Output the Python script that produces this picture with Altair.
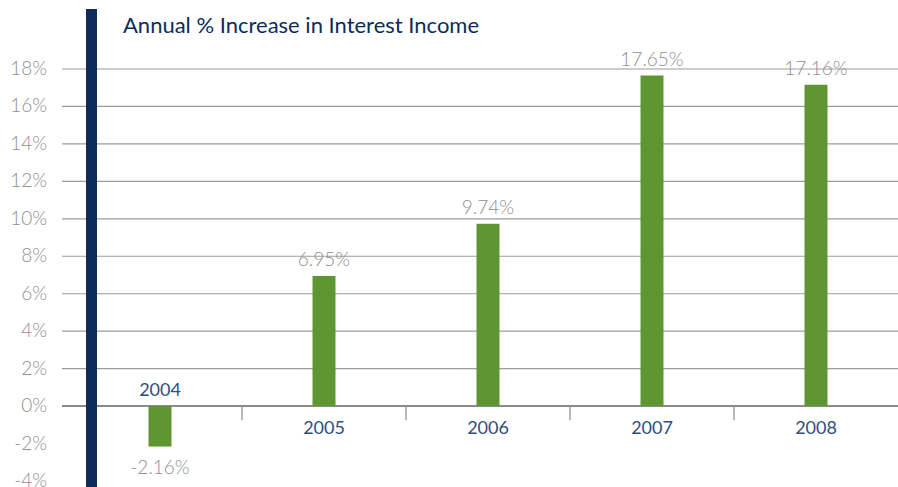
import altair as alt
import pandas as pd

years = ["2004", "2005", "2006", "2007", "2008"]
values = [-2.16, 6.95, 9.74, 17.65, 17.16]
value_labels = ["-2.16%", "6.95%", "9.74%", "17.65%", "17.16%"]
y_ticks = [-4, -2, 0, 2, 4, 6, 8, 10, 12, 14, 16, 18]
y_tick_labels = ["-4%", "-2%", "0%", "2%", "4%", "6%", "8%", "10%", "12%", "14%", "16%", "18%"]
grid_vals = [2, 4, 6, 8, 10, 12, 14, 16, 18]
zero_val = [0]
sep_depth = [-0.75]
title_text = ["Annual % Increase in Interest Income"]

NAVY = "#0b2c5c"
GREEN = "#5e9732"
GRAY = "#8f8f8f"
YEARC = "#2d4f7c"
FONT = "Lato"

df = pd.DataFrame({"year": years, "value": values, "label": value_labels,
                   "z": [0] * len(years), "d": sep_depth * len(years)})
grid = pd.DataFrame({"g": grid_vals})
zdf = pd.DataFrame({"g": zero_val})
ticks = pd.DataFrame({"v": y_ticks, "lab": y_tick_labels})
ttl = pd.DataFrame({"t": title_text})

xscale = alt.Scale(paddingInner=0, paddingOuter=0)
yscale = alt.Scale(domain=[-4, 18], nice=False, zero=False)


def X():
    return alt.X("year:N", scale=xscale, axis=None)


def Y(field):
    return alt.Y(field, scale=yscale, axis=None)


base = alt.Chart(df)

gridlines = alt.Chart(grid).mark_rule(color="#9c9c9c", strokeWidth=1.2).encode(
    y=Y("g:Q"), x=alt.value(-16), x2=alt.value(820)
)

zero = alt.Chart(zdf).mark_rule(color="#8a8a8a", strokeWidth=2).encode(
    y=Y("g:Q"), x=alt.value(-16), x2=alt.value(820)
)

ylabels = alt.Chart(ticks).mark_text(
    align="right", baseline="middle", font=FONT, fontSize=19, fontWeight=300,
    color=GRAY).encode(
    y=Y("v:Q"), x=alt.value(-31), text="lab:N"
)

bars = base.mark_bar(color=GREEN, size=23).encode(
    x=X(), y=Y("value:Q"),
)

seps = base.transform_filter("datum.year != '2004'").mark_rule(
    color="#8a8a8a", strokeWidth=1.2, xOffset=-82).encode(
    x=X(), y=Y("z:Q"), y2="d:Q"
)

year_pos = base.transform_filter("datum.value >= 0").mark_text(
    baseline="top", dy=14, font=FONT, fontSize=18, color=YEARC).encode(
    x=X(), y=Y("z:Q"), text="year:N")
year_neg = base.transform_filter("datum.value < 0").mark_text(
    baseline="bottom", dy=-6, font=FONT, fontSize=18, color=YEARC).encode(
    x=X(), y=Y("z:Q"), text="year:N")

val_pos = base.transform_filter("datum.value >= 0").mark_text(
    baseline="bottom", dy=-6, font=FONT, fontSize=19, fontWeight=300, color=GRAY).encode(
    x=X(), y=Y("value:Q"), text="label:N")
val_neg = base.transform_filter("datum.value < 0").mark_text(
    baseline="top", dy=12, font=FONT, fontSize=19, fontWeight=300, color=GRAY).encode(
    x=X(), y=Y("value:Q"), text="label:N")

navy_bar = alt.Chart(ttl).mark_rule(color=NAVY, strokeWidth=11).encode(
    x=alt.value(13.5), y=alt.value(-60), y2=alt.value(418)
)

title = alt.Chart(ttl).mark_text(align="left", baseline="alphabetic", font=FONT,
                                 fontSize=22, color=NAVY).encode(
    x=alt.value(45), y=alt.value(-36), text="t:N"
)

chart = alt.layer(gridlines, zero, seps, ylabels, bars, year_pos, year_neg, val_pos,
                  val_neg, navy_bar, title).properties(
    width=820, height=412,
    autosize=alt.AutoSizeParams(type="none"),
    padding={"left": 78, "top": 69, "right": 0, "bottom": 6},
).configure_view(stroke=None)

chart.save("out.html", embed_options={"renderer": "svg", "actions": False})
